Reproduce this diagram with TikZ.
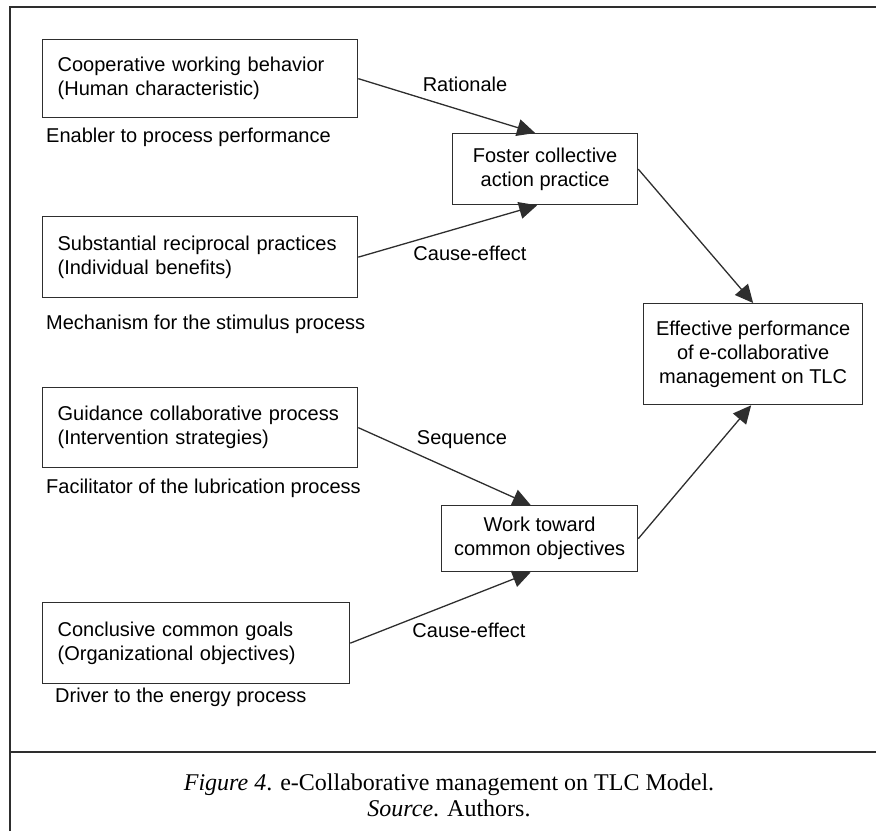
\documentclass[tikz,border=0pt]{standalone}
\usepackage{fontspec}
\setmainfont{Liberation Sans}
\newfontfamily\capfont{Liberation Serif}
\usetikzlibrary{arrows.meta}
\definecolor{ink}{HTML}{2E2E2E}
\tikzset{
  txt/.style={font=\fontsize{20}{24}\selectfont, text=black, inner sep=0pt},
  leftbox/.style={txt, draw=ink, line width=1.3pt, rectangle, anchor=north west,
    align=left, inner xsep=15pt, inner ysep=0pt},
  midbox/.style={txt, draw=ink, line width=1.3pt, rectangle, anchor=north west,
    align=center, inner sep=0pt},
  note/.style={txt, anchor=west},
  link/.style={draw=ink, line width=1.3pt, -{Triangle[length=18pt,width=17pt]}},
  frame/.style={draw=ink, line width=1.5pt}
}
\begin{document}
\begin{tikzpicture}[x=1pt, y=-1pt]
\useasboundingbox (0,0) rectangle (876,831);

% outer frame and caption divider
\coordinate (fbl) at (10,831);
\coordinate (ftl) at (10,7);
\coordinate (ftr) at (876,7);
\coordinate (dl) at (10,752);
\coordinate (dr) at (876,752);
\draw[frame] (fbl) -- (ftl) -- (ftr);
\draw[frame] (dl) -- (dr);

% left column: source boxes
\node[leftbox, text width=285pt, minimum height=78pt] (b1) at (42,39)
  {Cooperative working behavior\\(Human characteristic)};
\node[leftbox, text width=285pt, minimum height=81pt] (b2) at (42,216)
  {Substantial reciprocal practices\\(Individual benefits)};
\node[leftbox, text width=285pt, minimum height=80pt] (b3) at (42,387)
  {Guidance collaborative process\\(Intervention strategies)};
\node[leftbox, text width=277pt, minimum height=81pt] (b4) at (42,602)
  {Conclusive common goals\\(Organizational objectives)};

% notes under the source boxes
\node[note] (n1) at (46,137) {Enabler to process performance};
\node[note] (n2) at (46,324) {Mechanism for the stimulus process};
\node[note] (n3) at (46,488) {Facilitator of the lubrication process};
\node[note] (n4) at (55,697) {Driver to the energy process};

% middle and right boxes
\node[midbox, minimum width=185pt, minimum height=71pt] (fos) at (452,133)
  {Foster collective\\action practice};
\node[midbox, minimum width=196pt, minimum height=66pt] (wrk) at (441,505)
  {Work toward\\common objectives};
\node[midbox, minimum width=219pt, minimum height=101pt] (eff) at (643,303)
  {Effective performance\\of e-collaborative\\management on TLC};

% connectors
\draw[link] (b1.east) -- ([xshift=-10pt]fos.north);
\draw[link] (b2.east) -- ([xshift=-8pt]fos.south);
\draw[link] (fos.east) -- (eff.north);
\draw[link] (b3.east) -- ([xshift=-9pt]wrk.north);
\draw[link] (b4.east) -- ([xshift=-9pt]wrk.south);
\draw[link] (wrk.east) -- ([xshift=-2pt]eff.south);

% connector labels
\node[txt] (l1) at (465,84) {Rationale};
\node[txt] (l2) at (470,253) {Cause-effect};
\node[txt] (l3) at (462,440) {Sequence};
\node[txt] (l4) at (469,630) {Cause-effect};

% caption
\node[font=\capfont\fontsize{24}{26}\selectfont, align=center, inner sep=0pt] (cap) at (449,795)
  {\textit{Figure 4}. e-Collaborative management on TLC Model.\\\textit{Source}. Authors.};
\end{tikzpicture}
\end{document}
